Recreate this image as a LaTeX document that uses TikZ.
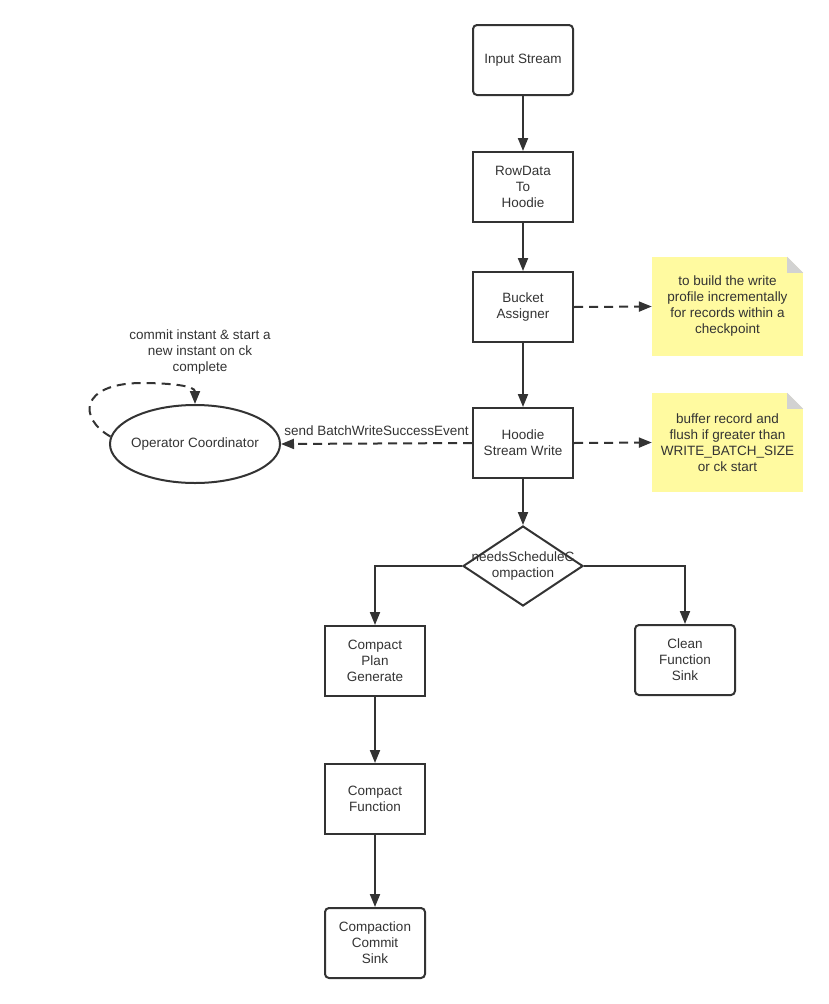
\documentclass[tikz,border=0pt]{standalone}
\usepackage{fontspec}
\setmainfont{Liberation Sans}
\usetikzlibrary{arrows.meta,shapes.geometric,positioning}
\definecolor{ink}{HTML}{333333}
\definecolor{notey}{RGB}{255,250,160}
\definecolor{fold}{RGB}{210,210,210}
\tikzset{
  every node/.style={font=\fontsize{13.5}{16}\selectfont, text=ink},
  conn/.style={draw=ink, line width=2pt, -{Triangle[length=13pt,width=10pt]}},
  dconn/.style={conn, dash pattern=on 9pt off 6pt},
  boxsq/.style={draw=ink, line width=2pt, minimum width=100pt, minimum height=70pt, align=center, inner sep=2pt},
  boxrd/.style={boxsq, rounded corners=4pt},
  notebox/.style={fill=notey, minimum width=151pt, minimum height=99pt, align=center, inner sep=2pt},
}
\begin{document}
\begin{tikzpicture}[x=1pt,y=-1pt]
\useasboundingbox (0,0) rectangle (829,1004);
\node[boxrd] (in) at (523,60) {Input Stream};
\node[boxsq] (rd) at (523,187) {RowData\\To\\Hoodie};
\node[boxsq] (ba) at (523,307) {Bucket\\Assigner};
\node[boxsq] (hs) at (523,443) {Hoodie\\Stream Write};
\node[diamond, draw=ink, line width=2pt, minimum width=120pt, minimum height=80pt, inner sep=0pt, aspect=1.5] (d) at (523,566) {};
\node[align=center, inner sep=0pt] (dt) at (d.center) {needsScheduleC\\ompaction};
\node[boxsq] (cp) at (375,661) {Compact\\Plan\\Generate};
\node[boxrd] (cf) at (685,660) {Clean\\Function\\Sink};
\node[boxsq] (cfun) at (375,799) {Compact\\Function};
\node[boxrd] (cc) at (375,943) {Compaction\\Commit\\Sink};
\node[ellipse, draw=ink, line width=2pt, minimum width=170pt, minimum height=78pt, inner sep=0pt] (oc) at (195,444) {};
\node[inner sep=0pt] (oct) at (oc.center) {Operator Coordinator};
% notes
\node[notebox] (n1) at (727.5,306.5) {to build the write\\profile incrementally\\for records within a\\checkpoint};
\node[notebox] (n2) at (727.5,442.5) {buffer record and\\flush if greater than\\WRITE\_BATCH\_SIZE\\or ck start};
\fill[white] (n1.north east) -- ++(-16,0) -- ++(16,16) -- cycle;
\fill[fold] (n1.north east) ++(-16,0) -- ++(0,16) -- ++(16,0) -- cycle;
\fill[white] (n2.north east) -- ++(-16,0) -- ++(16,16) -- cycle;
\fill[fold] (n2.north east) ++(-16,0) -- ++(0,16) -- ++(16,0) -- cycle;
% connectors
\draw[conn] (in) -- (rd);
\draw[conn] (rd) -- (ba);
\draw[conn] (ba) -- (hs);
\draw[conn] (hs.south) -- (d.north);
\draw[dconn] (ba.east) -- (n1.west);
\draw[dconn] (hs.east) -- (n2.west);
\draw[dconn] (hs.west) -- (oc.east) node[pos=0.5, above=7pt, inner sep=0pt] (sl) {send BatchWriteSuccessEvent};
\draw[conn] (d.west) -| (cp.north);
\draw[conn] (d.east) -| (cf.north);
\draw[conn] (cp) -- (cfun);
\draw[conn] (cfun) -- (cc);
\draw[dconn] (oc.175) .. controls (78,418) and (80,384) .. (140,383) .. controls (172,383) and (195,386) .. (oc.north);
\node[align=center] (ll) at (200,352) {commit instant \& start a\\new instant on ck\\complete};
\end{tikzpicture}
\end{document}
